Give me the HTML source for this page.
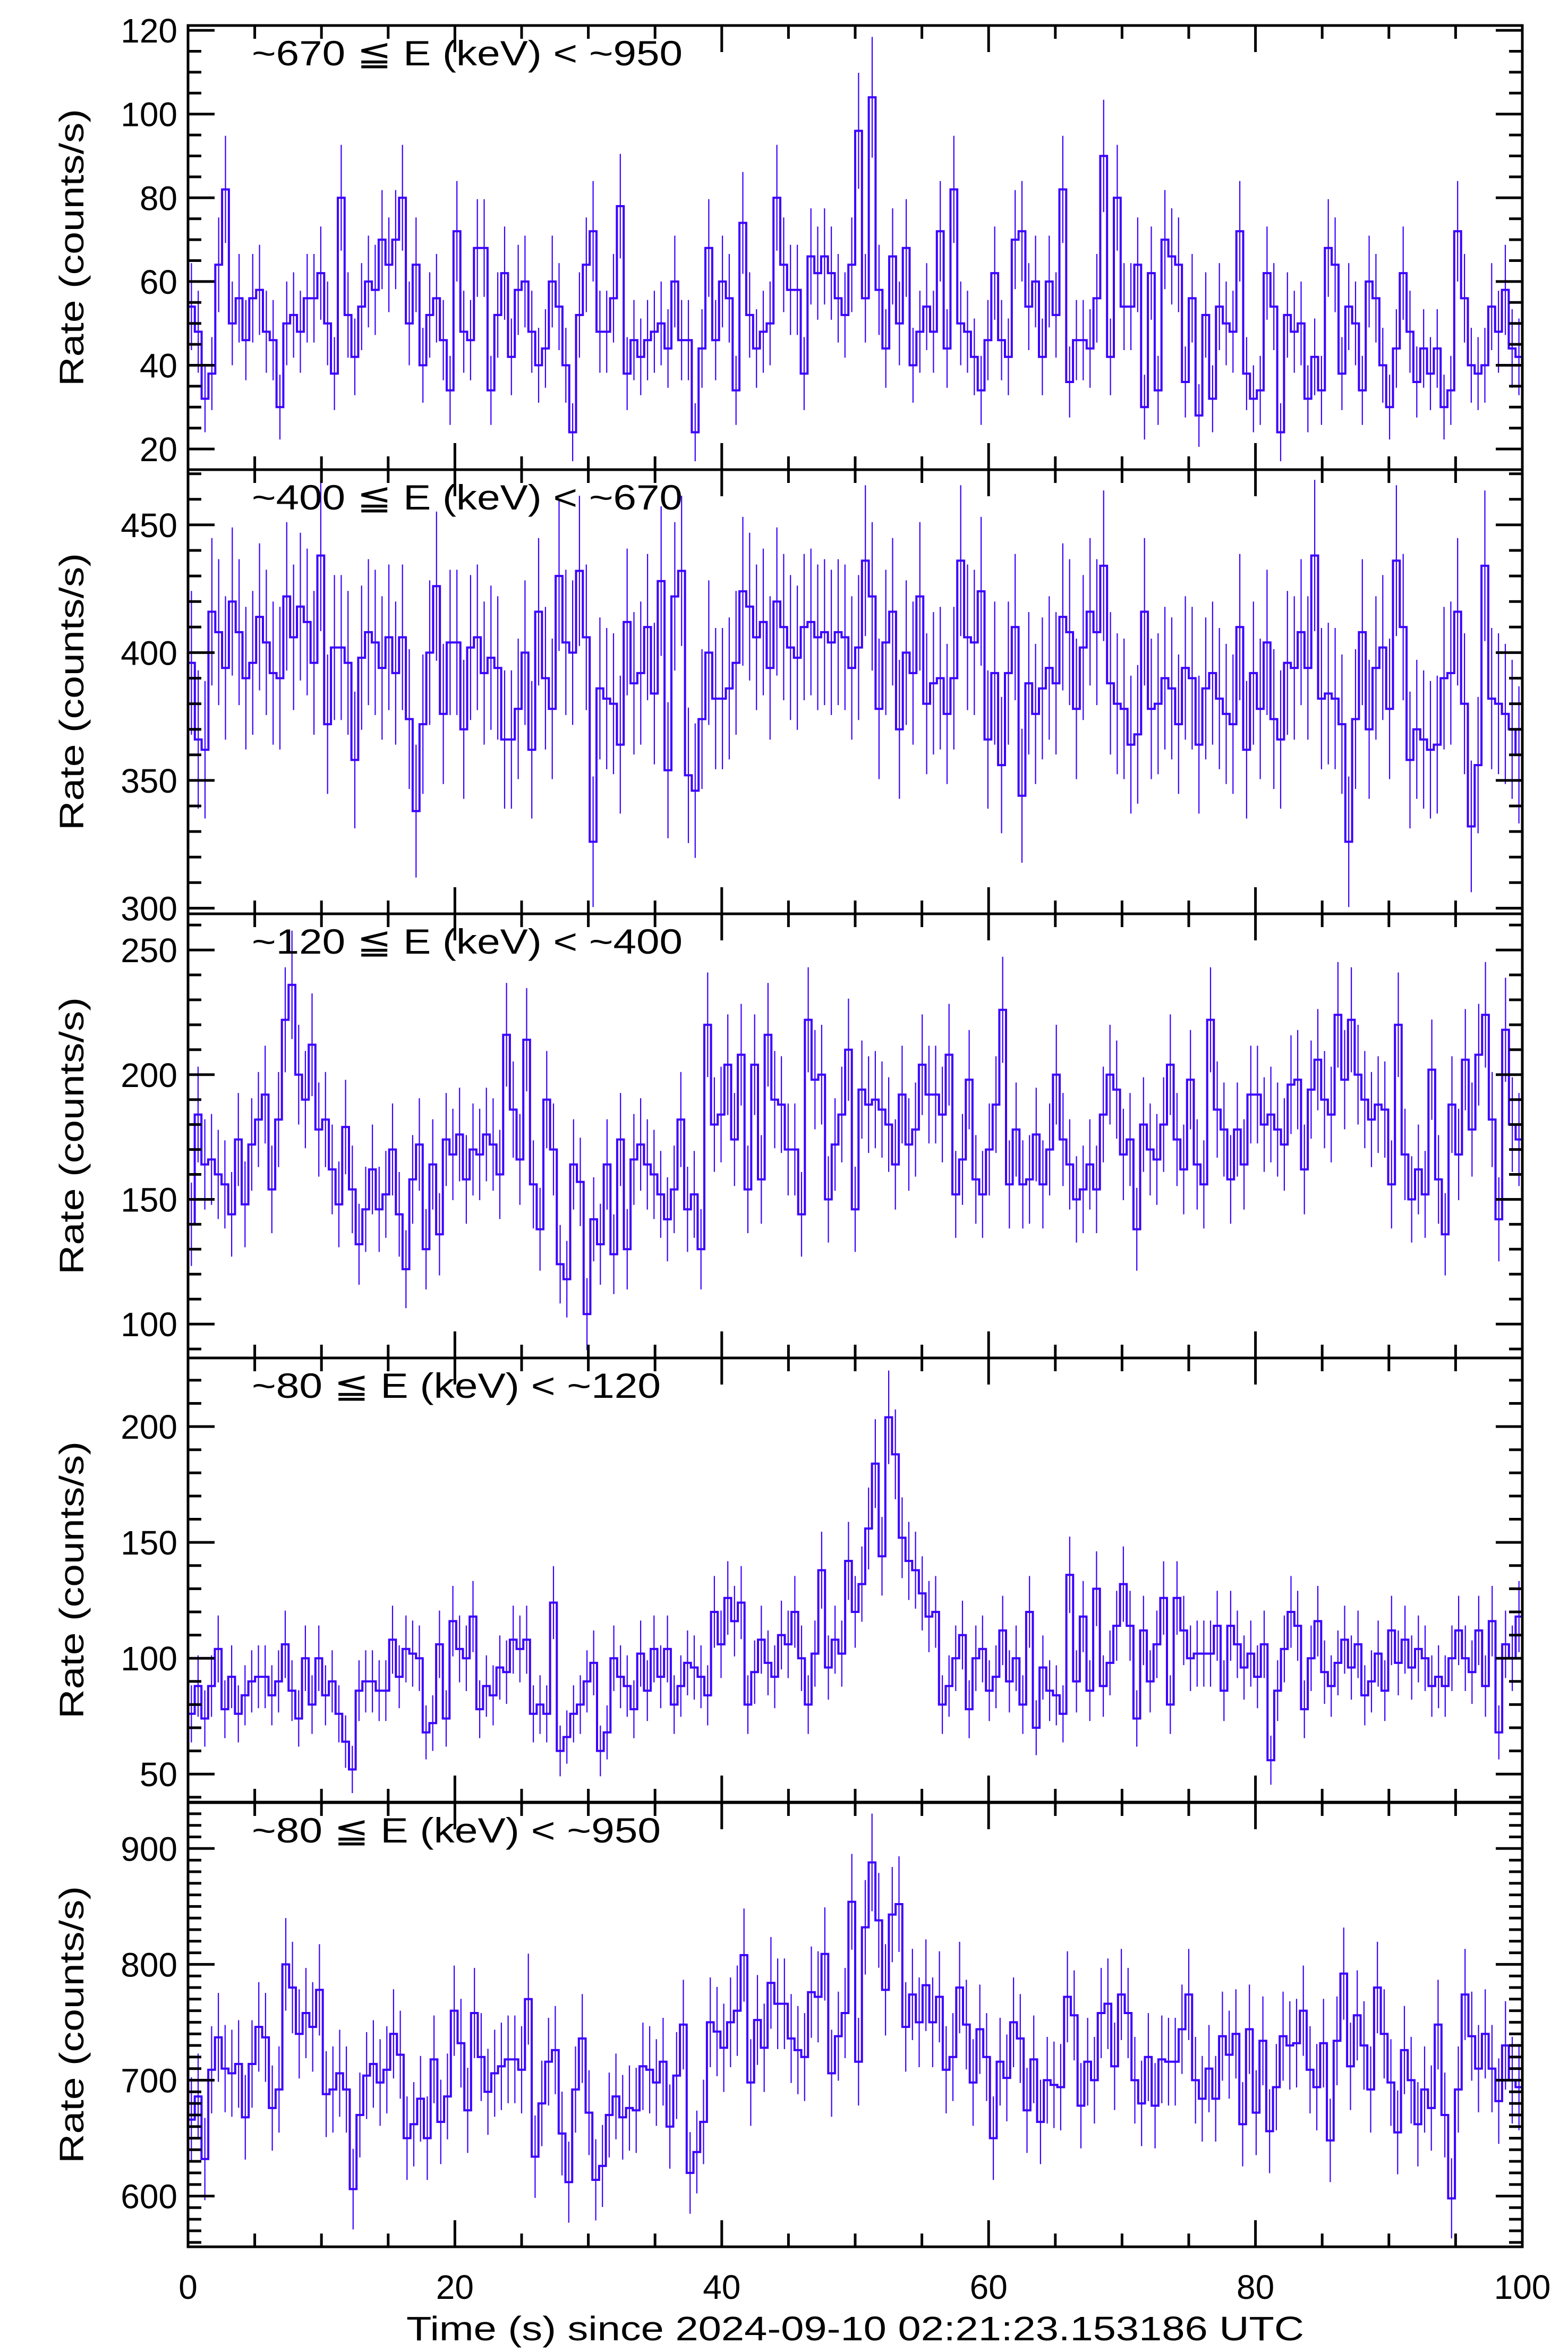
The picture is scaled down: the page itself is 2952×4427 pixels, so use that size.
<!DOCTYPE html>
<html><head><meta charset="utf-8"><title>Light curves</title>
<style>
html,body{margin:0;padding:0;background:#fff;}
svg{display:block;font-family:"Liberation Sans","DejaVu Sans",sans-serif;}
</style></head>
<body>
<svg id="chart" xmlns="http://www.w3.org/2000/svg" width="2952" height="4427" viewBox="0 0 2952 4427">
<rect x="0" y="0" width="2952" height="4427" fill="#fff"/>
<text x="1610" y="4405" font-size="64" text-anchor="middle" textLength="1690" lengthAdjust="spacingAndGlyphs">Time (s) since 2024-09-10 02:21:23.153186 UTC</text>
</svg>
<script>
const p1 = [54,48,32,38,64,82,50,56,46,56,58,48,46,30,50,52,48,56,56,62,50,38,80,52,42,54,60,58,70,64,70,80,50,64,40,52,56,46,34,72,48,46,68,68,34,52,62,42,58,60,48,40,44,60,54,40,24,52,64,72,48,48,56,78,38,46,42,46,48,50,44,60,46,46,24,44,68,46,60,56,34,74,52,44,48,50,80,64,58,58,38,66,62,66,62,56,52,64,96,56,104,58,44,66,50,68,40,48,54,48,72,44,82,50,48,42,34,46,62,46,42,70,72,54,60,42,60,52,82,36,46,46,44,56,90,42,80,54,54,64,30,62,34,70,66,64,36,56,28,52,32,54,50,48,72,38,32,34,62,54,24,52,48,50,32,42,34,68,64,38,54,50,34,60,56,40,30,44,62,48,36,44,38,44,30,34,72,56,40,38,40,54,48,58,44,42];
const p2 = [396,366,362,416,408,394,420,408,390,396,414,404,392,390,422,406,418,412,396,438,372,402,402,396,358,398,408,404,394,406,392,406,374,338,372,400,426,376,404,404,370,402,406,392,398,394,366,366,378,400,362,416,390,378,430,404,400,432,406,326,386,382,380,364,412,388,392,410,384,428,354,422,432,352,346,374,400,382,382,386,396,424,418,406,412,394,420,410,402,398,410,412,406,408,404,408,406,394,402,436,422,378,404,416,370,400,392,422,380,388,390,376,390,436,406,404,424,366,392,356,392,410,344,388,376,386,394,388,414,408,378,402,416,408,434,388,380,378,364,368,416,378,380,390,386,372,394,390,364,386,392,382,376,372,410,362,392,378,404,374,366,396,394,408,394,438,382,384,382,372,326,374,408,370,394,402,378,436,410,358,370,366,362,364,390,392,416,380,332,356,434,382,380,376,370,360];
const p3 = [140,184,164,166,160,156,144,174,148,172,182,192,154,182,222,236,200,190,212,178,182,162,148,179,154,132,146,162,146,152,170,144,122,158,172,130,164,136,174,168,176,158,170,168,176,172,160,216,186,166,214,156,138,190,170,124,118,164,157,104,142,132,164,128,174,130,166,172,164,160,152,142,154,182,146,152,130,220,180,184,204,174,208,154,204,158,216,190,188,170,170,144,222,198,200,150,172,184,210,146,194,188,190,186,180,164,192,172,178,204,192,192,184,208,152,166,198,158,152,170,188,226,156,178,156,158,176,156,170,200,174,164,150,154,164,154,184,200,194,168,174,138,180,170,166,180,204,174,162,198,164,156,222,186,178,158,178,164,192,192,180,184,178,172,196,198,162,194,206,190,184,224,198,222,200,190,182,188,186,156,220,168,150,162,152,202,158,136,188,168,206,178,208,224,182,142,218,180,174];
const p4 = [76,88,74,88,104,78,92,76,84,90,92,92,84,90,106,86,74,100,80,100,84,90,76,64,52,86,90,90,86,86,108,92,104,102,100,68,72,106,74,116,104,100,118,78,88,84,96,94,108,104,108,76,80,76,124,60,66,76,80,90,98,60,68,100,92,88,78,102,86,104,92,104,80,88,98,96,92,84,120,106,126,116,124,80,94,108,98,92,110,106,120,100,80,102,138,96,108,102,142,120,132,156,184,144,204,188,152,142,138,128,118,120,80,88,100,110,78,100,104,86,92,112,90,100,80,120,70,96,86,84,76,136,90,118,86,130,88,98,114,132,114,74,112,90,106,126,80,126,112,100,102,102,102,114,86,114,106,96,102,92,106,56,86,104,120,114,78,100,116,94,88,98,108,96,106,84,90,102,86,112,98,108,96,104,100,88,92,88,100,112,100,94,112,88,116,68,106,100,118];
const p5 = [666,686,632,709,737,710,706,714,668,714,746,737,676,692,800,780,740,758,746,778,688,692,706,692,606,670,704,714,698,709,740,722,650,662,684,650,718,664,686,760,732,674,758,720,690,706,712,718,718,709,770,634,680,716,726,654,612,692,736,672,614,626,670,686,668,676,674,712,709,698,716,660,704,748,620,638,664,750,742,728,750,760,808,698,752,728,784,766,766,736,726,720,776,772,809,706,738,758,854,716,832,888,838,778,843,852,746,774,750,782,750,772,709,720,780,748,698,744,720,650,716,702,750,736,674,718,664,700,696,694,772,756,678,716,700,758,766,712,774,758,700,680,720,678,718,716,716,744,774,700,684,710,684,738,722,740,662,744,672,734,656,694,738,730,732,760,709,694,732,648,734,792,712,756,730,692,780,740,698,655,726,700,662,692,676,748,670,598,692,774,738,710,740,710,682,730,700,694];
const labels = ["~670 \u2266 E (keV) < ~950","~400 \u2266 E (keV) < ~670","~120 \u2266 E (keV) < ~400","~80 \u2266 E (keV) < ~120","~80 \u2266 E (keV) < ~950"];
const yMajor1 = [20,40,60,80,100,120];
const yMajor2 = [300,350,400,450];
const yMajor3 = [100,150,200,250];
const yMajor4 = [50,100,150,200];
const yMajor5 = [600,700,800,900];
const xTicks = [0,20,40,60,80,100];
const tMin = 0, tMax = 100;

const NS = "http://www.w3.org/2000/svg";
const svg = document.getElementById('chart');
const L = 354, R = 2866, PH = 836;
const tops = [48, 884, 1720, 2556, 3393];
const series = [p1,p2,p3,p4,p5];
const ranges = [[15.06,121.15],[297.8,471.6],[86.4,264.5],[37.9,229.6],[556.2,939.6]];
const majors = [yMajor1,yMajor2,yMajor3,yMajor4,yMajor5];
const minorStep = [5,10,10,10,10];
const legendLen = [811,811,811,770,770];
const COL = "#3c00ff";

function mk(tag, attrs, parent){
  const e = document.createElementNS(NS, tag);
  for (const k in attrs) e.setAttribute(k, attrs[k]);
  (parent||svg).appendChild(e);
  return e;
}
const xs = t => L + (t - tMin) / (tMax - tMin) * (R - L);

series.forEach((vals, p) => {
  const top = tops[p], bot = top + PH;
  const [lo, hi] = ranges[p];
  const ys = v => bot - (v - lo) / (hi - lo) * PH;
  const g = mk('g', {});
  
  
  const cid = 'clip' + p;
  const cp = mk('clipPath', {id: cid}, g);
  mk('rect', {x: L, y: top, width: R-L, height: PH}, cp);
  const dg = mk('g', {'clip-path': 'url(#' + cid + ')'}, g);
  
  
  const n = vals.length, bw = (tMax - tMin) / n;
  // error bars
  let eb = '';
  vals.forEach((v, i) => {
    const tc = tMin + (i + 0.5) * bw;
    const err = Math.sqrt(2 * Math.max(v, 0));
    eb += 'M' + xs(tc).toFixed(1) + ',' + ys(v + err).toFixed(1) + 'V' + ys(v - err).toFixed(1);
  });
  const ebp = mk('path', {d: eb, stroke: COL, 'stroke-width': 2.2, fill: 'none'}, dg);
  
  
  // step line
  let d = 'M' + xs(tMin).toFixed(1) + ',' + ys(vals[0]).toFixed(1);
  vals.forEach((v, i) => {
    if (i > 0) d += 'V' + ys(v).toFixed(1);
    d += 'H' + xs(tMin + (i + 1) * bw).toFixed(1);
  });
  const sp = mk('path', {d: d, stroke: COL, 'stroke-width': 4, fill: 'none', 'stroke-linejoin': 'miter'}, dg);
  
  
  // frame
  const fr = mk('rect', {x: L, y: top, width: R-L, height: PH, fill: 'none', stroke: '#000', 'stroke-width': 5}, g);
  
  
  // y ticks
  let tk = '';
  const step = minorStep[p];
  for (let v = Math.ceil(lo/step)*step; v <= hi; v += step) {
    const y = ys(v);
    const isMaj = majors[p].indexOf(v) >= 0;
    const len = isMaj ? 50 : 25;
    tk += 'M' + L + ',' + y.toFixed(1) + 'h' + len + 'M' + R + ',' + y.toFixed(1) + 'h' + (-len);
  }
  for (let t = tMin; t <= tMax; t += 5) {
    const x = xs(t);
    const len = (t % 20 === 0) ? 50 : 25;
    tk += 'M' + x.toFixed(1) + ',' + bot + 'v' + (-len) + 'M' + x.toFixed(1) + ',' + top + 'v' + len;
  }
  const tkp = mk('path', {d: tk, stroke: '#000', 'stroke-width': 5, fill: 'none'}, g);
  
  
  majors[p].forEach(v => {
    const t = mk('text', {x: 334, y: ys(v) + 23, 'font-size': 64, 'text-anchor': 'end'}, g);
    t.textContent = String(v);
    
    
  });
  const cy = top + PH/2;
  const yt = mk('text', {x: 0, y: 0, 'font-size': 64, 'text-anchor': 'middle', transform: 'translate(157,' + cy + ') rotate(-90)', textLength: 522, lengthAdjust: 'spacingAndGlyphs'}, g);
  yt.textContent = 'Rate (counts/s)';
  
  
  const lg = mk('text', {x: 474, y: top + 75, 'font-size': 66, textLength: legendLen[p], lengthAdjust: 'spacingAndGlyphs', style: 'font-family:"Liberation Sans","DejaVu Sans",sans-serif'}, g);
  lg.textContent = labels[p];
  
  
});

xTicks.forEach(t => {
  const e = mk('text', {x: xs(t), y: 4327, 'font-size': 64, 'text-anchor': 'middle'});
  e.textContent = String(t);
  
  
});
</script>
</body></html>
